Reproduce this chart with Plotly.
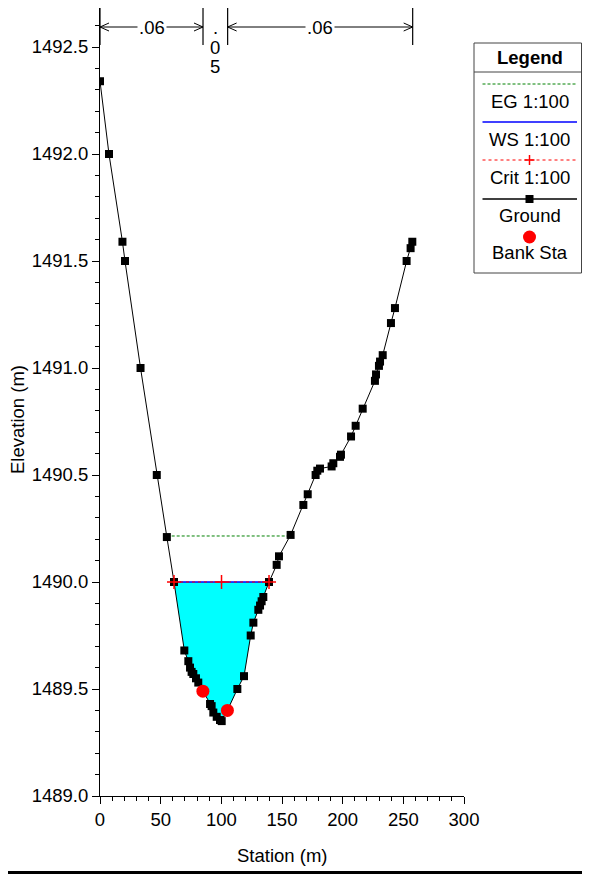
import numpy as np
import plotly.graph_objects as go

# ---------------- data ----------------
station = [0, 7.4, 18.5, 20.6, 33.4, 46.8, 55.1, 61.0, 69.5, 72.8, 74.2, 75.5, 76.9,
           79.1, 81.0, 84.8, 90.7, 92.0, 93.4, 96.2, 98.9, 100.3, 105.0, 113.2, 118.7,
           124.2, 126.4, 130.5, 131.9, 133.2, 134.6, 139.3, 145.6, 147.5, 157.1, 167.6,
           171.2, 177.7, 179.1, 181.3, 190.9, 192.3, 197.8, 198.6, 206.9, 210.7, 216.5,
           226.6, 227.5, 229.9, 230.8, 233.0, 239.8, 243.1, 252.7, 256.0, 257.4]
elevation = [1492.34, 1492.00, 1491.59, 1491.50, 1491.00, 1490.50, 1490.21, 1490.00,
             1489.68, 1489.63, 1489.60, 1489.58, 1489.57, 1489.55, 1489.53, 1489.49,
             1489.43, 1489.42, 1489.39, 1489.37, 1489.355, 1489.35, 1489.40, 1489.50,
             1489.56, 1489.75, 1489.81, 1489.87, 1489.89, 1489.91, 1489.93, 1490.00,
             1490.08, 1490.12, 1490.22, 1490.36, 1490.41, 1490.50, 1490.52, 1490.53,
             1490.54, 1490.555, 1490.585, 1490.595, 1490.68, 1490.73, 1490.81, 1490.94,
             1490.97, 1491.01, 1491.03, 1491.06, 1491.21, 1491.28, 1491.50, 1491.56,
             1491.59]
bank_station = [84.8, 105.0]
bank_elev = [1489.49, 1489.40]
eg_elev = 1490.215
ws_elev = 1490.00
crit_elev = 1490.00
n_bounds = [0, 84.9, 105.2, 257.7]
n_values = [".06", ".05", ".06"]
x_ticks = [0, 50, 100, 150, 200, 250, 300]
y_ticks = [1489.0, 1489.5, 1490.0, 1490.5, 1491.0, 1491.5, 1492.0, 1492.5]
legend_names = ["EG 1:100", "WS 1:100", "Crit 1:100", "Ground", "Bank Sta"]

# ---------------- geometry helpers ----------------
# page body has an 8px margin, so the figure is shrunk/shifted accordingly
OFF = 8
PAGE_W, PAGE_H = 590, 876
W, H = PAGE_W - OFF, PAGE_H - OFF
PLOT_L, PLOT_R, PLOT_T, PLOT_B = 100, 464, 8, 796   # page pixel coords of plot area
ML, MT = PLOT_L - OFF, PLOT_T - OFF
MR, MB = PAGE_W - PLOT_R, PAGE_H - PLOT_B
PW, PH = PLOT_R - PLOT_L, PLOT_B - PLOT_T
XR = [0, 300]
YR = [1489.0, 1489.0 + PH / 214.0]
FONT = "Liberation Sans, Arial, sans-serif"
FS = 18.5


def px2x(px):
    return (px - PLOT_L) / PW


def py2y(py):
    return (PLOT_B - py) / PH


dx_per_px = (XR[1] - XR[0]) / PW
dy_per_px = (YR[1] - YR[0]) / PH

st = np.array(station)
el = np.array(elevation)


def crossings(level):
    imin = int(np.argmin(el))
    i = imin
    while i > 0 and el[i - 1] < level:
        i -= 1
    if i > 0:
        x0, x1, y0, y1 = st[i - 1], st[i], el[i - 1], el[i]
        xl = x0 + (level - y0) * (x1 - x0) / (y1 - y0)
    else:
        xl = st[0]
    j = imin
    while j < len(el) - 1 and el[j + 1] < level:
        j += 1
    if j < len(el) - 1:
        x0, x1, y0, y1 = st[j], st[j + 1], el[j], el[j + 1]
        xr = x0 + (level - y0) * (x1 - x0) / (y1 - y0)
    else:
        xr = st[-1]
    return xl, xr, i, j


fig = go.Figure()

# water fill
wl, wr, wi, wj = crossings(ws_elev)
fx = [wl] + list(st[wi:wj + 1]) + [wr]
fy = [ws_elev] + list(el[wi:wj + 1]) + [ws_elev]
fig.add_trace(go.Scatter(x=fx, y=fy, fill="toself", fillcolor="#00FFFF",
                         line=dict(width=0), mode="lines", hoverinfo="skip"))

# EG
el_l, el_r, _, _ = crossings(eg_elev)
fig.add_trace(go.Scatter(x=[el_l, el_r], y=[eg_elev, eg_elev], mode="lines",
                         line=dict(color="#008000", width=1, dash="3px,2px")))
# WS
fig.add_trace(go.Scatter(x=[wl, wr], y=[ws_elev, ws_elev], mode="lines",
                         line=dict(color="#0000FF", width=1.5)))
# Ground
fig.add_trace(go.Scatter(x=station, y=elevation, mode="lines+markers",
                         line=dict(color="black", width=1),
                         marker=dict(symbol="square", size=8, color="black")))
# Crit
cl, cr, _, _ = crossings(crit_elev)
fig.add_trace(go.Scatter(x=[cl, (cl + cr) / 2, cr], y=[crit_elev] * 3, mode="lines+markers",
                         line=dict(color="#FF0000", width=1, dash="dot"),
                         marker=dict(symbol="cross-thin", size=10,
                                     line=dict(color="#FF0000", width=1.5))))
# Bank stations
fig.add_trace(go.Scatter(x=bank_station, y=bank_elev, mode="markers",
                         marker=dict(symbol="circle", size=13, color="#FF0000")))

shapes = []
annotations = []

# roughness boundaries
y_arrow = YR[1] - (27 - PLOT_T) * dy_per_px
y_bar_top = YR[1]
y_bar_bot = YR[1] - (45 - PLOT_T) * dy_per_px
for b in n_bounds:
    shapes.append(dict(type="line", xref="x", yref="y", x0=b, x1=b, y0=y_bar_bot,
                       y1=y_bar_top, line=dict(color="black", width=1.2)))
ah_l = 9 * dx_per_px
ah_h = 4 * dy_per_px
for k, lab in enumerate(n_values):
    a, b = n_bounds[k], n_bounds[k + 1]
    wpx = (b - a) / dx_per_px
    if wpx > 50:
        shapes.append(dict(type="line", xref="x", yref="y", x0=a, x1=b, y0=y_arrow,
                           y1=y_arrow, line=dict(color="black", width=1)))
        for tip, d in ((a, 1), (b, -1)):
            path = (f"M {tip + d * ah_l} {y_arrow + ah_h} L {tip} {y_arrow} "
                    f"L {tip + d * ah_l} {y_arrow - ah_h}")
            shapes.append(dict(type="path", xref="x", yref="y", path=path,
                               line=dict(color="black", width=1)))
        annotations.append(dict(x=(a + b) / 2, y=y_arrow, xref="x", yref="y", text=lab,
                                showarrow=False, bgcolor="white", borderpad=1,
                                font=dict(family=FONT, size=FS, color="black"),
                                xanchor="center", yanchor="middle"))
    else:
        for ci, ch in enumerate(lab):
            pyc = [27, 47.5, 66][ci]
            annotations.append(dict(x=(a + b) / 2, y=YR[1] - (pyc - PLOT_T) * dy_per_px,
                                    xref="x", yref="y", text=ch, showarrow=False,
                                    font=dict(family=FONT, size=FS, color="black"),
                                    xanchor="center", yanchor="middle"))

# legend box (drawn manually)
LX0, LX1, LY0, LY1 = 474, 581.5, 43, 273
shapes.append(dict(type="rect", xref="paper", yref="paper", x0=px2x(LX0), x1=px2x(LX1),
                   y0=py2y(LY1), y1=py2y(LY0), line=dict(color="#444444", width=1),
                   fillcolor="white", layer="above"))
shapes.append(dict(type="line", xref="paper", yref="paper", x0=px2x(LX0), x1=px2x(LX1),
                   y0=py2y(72), y1=py2y(72), line=dict(color="#444444", width=1)))
LCX = 529.5
annotations.append(dict(x=px2x(LCX), y=py2y(57.5), xref="paper", yref="paper",
                        text="<b>Legend</b>", showarrow=False,
                        font=dict(family=FONT, size=FS, color="black"),
                        xanchor="center", yanchor="middle"))
line_y = [84, 122, 160, 199, 237]
text_y = [101, 139, 177, 215, 253]
styles = [("#008000", "3px,2px", 1), ("#0000FF", "solid", 1.3),
          ("#FF0000", "dot", 1), ("black", "solid", 1.3), (None, None, None)]
for k, name in enumerate(legend_names):
    col, dash, lw = styles[k]
    ly = py2y(line_y[k])
    if col is not None:
        shapes.append(dict(type="line", xref="paper", yref="paper", x0=px2x(482.5),
                           x1=px2x(577), y0=ly, y1=ly,
                           line=dict(color=col, width=lw, dash=dash)))
    if name.startswith("Crit"):
        for (x0, y0, x1, y1) in ((LCX - 5, line_y[k], LCX + 5, line_y[k]),
                                 (LCX, line_y[k] - 5, LCX, line_y[k] + 5)):
            shapes.append(dict(type="line", xref="paper", yref="paper", x0=px2x(x0),
                               x1=px2x(x1), y0=py2y(y0), y1=py2y(y1),
                               line=dict(color="#FF0000", width=1.5)))
    if name == "Ground":
        shapes.append(dict(type="rect", xref="paper", yref="paper", x0=px2x(LCX - 4),
                           x1=px2x(LCX + 4), y0=py2y(line_y[k] + 4), y1=py2y(line_y[k] - 4),
                           fillcolor="black", line=dict(width=0)))
    if name == "Bank Sta":
        shapes.append(dict(type="circle", xref="paper", yref="paper", x0=px2x(LCX - 6.5),
                           x1=px2x(LCX + 6.5), y0=py2y(line_y[k] + 6.5),
                           y1=py2y(line_y[k] - 6.5), fillcolor="#FF0000",
                           line=dict(width=0)))
    annotations.append(dict(x=px2x(LCX), y=py2y(text_y[k]), xref="paper", yref="paper",
                            text=name, showarrow=False,
                            font=dict(family=FONT, size=FS, color="black"),
                            xanchor="center", yanchor="middle"))

# axis titles
annotations.append(dict(x=px2x(282), y=py2y(855), xref="paper", yref="paper",
                        text="Station (m)", showarrow=False,
                        font=dict(family=FONT, size=FS, color="black"),
                        xanchor="center", yanchor="middle"))
annotations.append(dict(x=px2x(17), y=py2y(420), xref="paper", yref="paper",
                        text="Elevation (m)", showarrow=False, textangle=-90,
                        font=dict(family=FONT, size=FS, color="black"),
                        xanchor="center", yanchor="middle"))

# bottom frame line
shapes.append(dict(type="line", xref="paper", yref="paper", x0=px2x(OFF), x1=px2x(PAGE_W),
                   y0=py2y(872.5), y1=py2y(872.5), line=dict(color="black", width=3)))

axis_common = dict(showline=True, linecolor="black", linewidth=1, ticks="outside",
                   ticklen=7, tickwidth=1, tickcolor="black", showgrid=False,
                   zeroline=False, tickfont=dict(family=FONT, size=FS, color="black"))
fig.update_layout(
    width=W, height=H, margin=dict(l=ML, r=MR, t=MT, b=MB, pad=0),
    paper_bgcolor="white", plot_bgcolor="white", showlegend=False,
    font=dict(family=FONT, size=FS, color="black"),
    xaxis=dict(range=XR, tickvals=x_ticks, ticktext=[str(v) for v in x_ticks],
               minor=dict(ticks="outside", ticklen=4, tickcolor="black", dtick=10,
                          tick0=0, showgrid=False), **axis_common),
    yaxis=dict(range=YR, tickvals=y_ticks, ticktext=[f"{v:.1f}" for v in y_ticks],
               minor=dict(ticks="outside", ticklen=4, tickcolor="black", dtick=0.1,
                          tick0=1489.0, showgrid=False), **axis_common),
    shapes=shapes, annotations=annotations,
)
fig.write_html("out.html")
